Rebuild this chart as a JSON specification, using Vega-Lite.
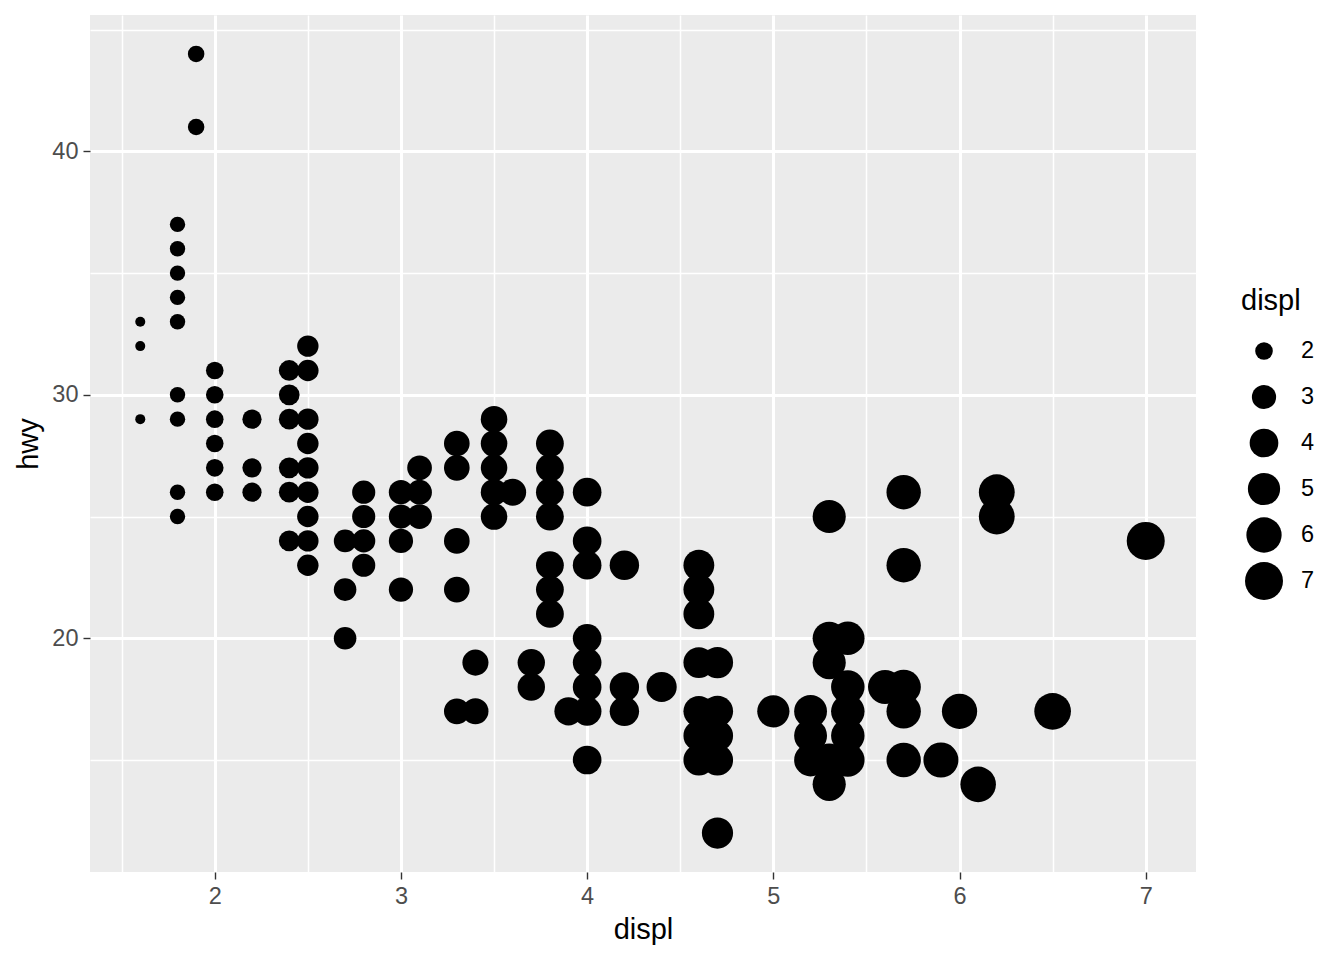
{
  "$schema": "https://vega.github.io/schema/vega-lite/v6.json",
  "width": 1106,
  "height": 857,
  "autosize": "none",
  "padding": {"left": 90, "top": 15, "right": 148, "bottom": 88},
  "background": "white",
  "data": {
    "values": [
      {"displ": 1.6, "hwy": 33}, {"displ": 1.6, "hwy": 32}, {"displ": 1.6, "hwy": 29},
      {"displ": 1.8, "hwy": 37}, {"displ": 1.8, "hwy": 36}, {"displ": 1.8, "hwy": 35}, {"displ": 1.8, "hwy": 34}, {"displ": 1.8, "hwy": 33}, {"displ": 1.8, "hwy": 30}, {"displ": 1.8, "hwy": 29}, {"displ": 1.8, "hwy": 26}, {"displ": 1.8, "hwy": 25},
      {"displ": 1.9, "hwy": 44}, {"displ": 1.9, "hwy": 41},
      {"displ": 2.0, "hwy": 31}, {"displ": 2.0, "hwy": 30}, {"displ": 2.0, "hwy": 29}, {"displ": 2.0, "hwy": 28}, {"displ": 2.0, "hwy": 27}, {"displ": 2.0, "hwy": 26},
      {"displ": 2.2, "hwy": 29}, {"displ": 2.2, "hwy": 27}, {"displ": 2.2, "hwy": 26},
      {"displ": 2.4, "hwy": 31}, {"displ": 2.4, "hwy": 30}, {"displ": 2.4, "hwy": 29}, {"displ": 2.4, "hwy": 27}, {"displ": 2.4, "hwy": 26}, {"displ": 2.4, "hwy": 24},
      {"displ": 2.5, "hwy": 32}, {"displ": 2.5, "hwy": 31}, {"displ": 2.5, "hwy": 29}, {"displ": 2.5, "hwy": 28}, {"displ": 2.5, "hwy": 27}, {"displ": 2.5, "hwy": 26}, {"displ": 2.5, "hwy": 25}, {"displ": 2.5, "hwy": 24}, {"displ": 2.5, "hwy": 23},
      {"displ": 2.7, "hwy": 24}, {"displ": 2.7, "hwy": 22}, {"displ": 2.7, "hwy": 20},
      {"displ": 2.8, "hwy": 26}, {"displ": 2.8, "hwy": 25}, {"displ": 2.8, "hwy": 24}, {"displ": 2.8, "hwy": 23},
      {"displ": 3.0, "hwy": 26}, {"displ": 3.0, "hwy": 25}, {"displ": 3.0, "hwy": 24}, {"displ": 3.0, "hwy": 22},
      {"displ": 3.1, "hwy": 27}, {"displ": 3.1, "hwy": 26}, {"displ": 3.1, "hwy": 25},
      {"displ": 3.3, "hwy": 28}, {"displ": 3.3, "hwy": 27}, {"displ": 3.3, "hwy": 24}, {"displ": 3.3, "hwy": 22}, {"displ": 3.3, "hwy": 17},
      {"displ": 3.4, "hwy": 19}, {"displ": 3.4, "hwy": 17},
      {"displ": 3.5, "hwy": 29}, {"displ": 3.5, "hwy": 28}, {"displ": 3.5, "hwy": 27}, {"displ": 3.5, "hwy": 26}, {"displ": 3.5, "hwy": 25},
      {"displ": 3.6, "hwy": 26},
      {"displ": 3.7, "hwy": 19}, {"displ": 3.7, "hwy": 18},
      {"displ": 3.8, "hwy": 28}, {"displ": 3.8, "hwy": 27}, {"displ": 3.8, "hwy": 26}, {"displ": 3.8, "hwy": 25}, {"displ": 3.8, "hwy": 23}, {"displ": 3.8, "hwy": 22}, {"displ": 3.8, "hwy": 21},
      {"displ": 3.9, "hwy": 17},
      {"displ": 4.0, "hwy": 26}, {"displ": 4.0, "hwy": 24}, {"displ": 4.0, "hwy": 23}, {"displ": 4.0, "hwy": 20}, {"displ": 4.0, "hwy": 19}, {"displ": 4.0, "hwy": 18}, {"displ": 4.0, "hwy": 17}, {"displ": 4.0, "hwy": 15},
      {"displ": 4.2, "hwy": 23}, {"displ": 4.2, "hwy": 18}, {"displ": 4.2, "hwy": 17},
      {"displ": 4.4, "hwy": 18},
      {"displ": 4.6, "hwy": 23}, {"displ": 4.6, "hwy": 22}, {"displ": 4.6, "hwy": 21}, {"displ": 4.6, "hwy": 19}, {"displ": 4.6, "hwy": 17}, {"displ": 4.6, "hwy": 16}, {"displ": 4.6, "hwy": 15},
      {"displ": 4.7, "hwy": 19}, {"displ": 4.7, "hwy": 17}, {"displ": 4.7, "hwy": 16}, {"displ": 4.7, "hwy": 15}, {"displ": 4.7, "hwy": 12},
      {"displ": 5.0, "hwy": 17},
      {"displ": 5.2, "hwy": 17}, {"displ": 5.2, "hwy": 16}, {"displ": 5.2, "hwy": 15},
      {"displ": 5.3, "hwy": 25}, {"displ": 5.3, "hwy": 20}, {"displ": 5.3, "hwy": 19}, {"displ": 5.3, "hwy": 15}, {"displ": 5.3, "hwy": 14},
      {"displ": 5.4, "hwy": 20}, {"displ": 5.4, "hwy": 18}, {"displ": 5.4, "hwy": 17}, {"displ": 5.4, "hwy": 16}, {"displ": 5.4, "hwy": 15},
      {"displ": 5.6, "hwy": 18},
      {"displ": 5.7, "hwy": 26}, {"displ": 5.7, "hwy": 23}, {"displ": 5.7, "hwy": 18}, {"displ": 5.7, "hwy": 17}, {"displ": 5.7, "hwy": 15},
      {"displ": 5.9, "hwy": 15},
      {"displ": 6.0, "hwy": 17},
      {"displ": 6.1, "hwy": 14},
      {"displ": 6.2, "hwy": 26}, {"displ": 6.2, "hwy": 25},
      {"displ": 6.5, "hwy": 17},
      {"displ": 7.0, "hwy": 24}
    ]
  },
  "mark": {"type": "point", "filled": true, "opacity": 1, "color": "black", "shape": "circle", "strokeWidth": 0},
  "encoding": {
    "x": {
      "field": "displ", "type": "quantitative",
      "scale": {"domain": [1.33, 7.27], "nice": false, "zero": false},
      "axis": {
        "title": "displ",
        "values": [1.5, 2, 2.5, 3, 3.5, 4, 4.5, 5, 5.5, 6, 6.5, 7],
        "labelExpr": "datum.value % 1 === 0 ? format(datum.value, 'd') : ''",
        "tickOpacity": {"condition": {"test": "datum.value % 1 !== 0", "value": 0}, "value": 1},
        "gridWidth": {"condition": {"test": "datum.value % 1 !== 0", "value": 1.5}, "value": 3},
        "titlePadding": 8
      }
    },
    "y": {
      "field": "hwy", "type": "quantitative",
      "scale": {"domain": [10.4, 45.6], "nice": false, "zero": false},
      "axis": {
        "title": "hwy",
        "values": [15, 20, 25, 30, 35, 40, 45],
        "labelExpr": "datum.value % 10 === 0 ? format(datum.value, 'd') : ''",
        "tickOpacity": {"condition": {"test": "datum.value % 10 !== 0", "value": 0}, "value": 1},
        "gridWidth": {"condition": {"test": "datum.value % 10 !== 0", "value": 1.5}, "value": 3},
        "titlePadding": 8
      }
    },
    "size": {
      "field": "displ", "type": "quantitative",
      "scale": {"domain": [1.6, 1.8, 2, 2.5, 3, 4, 5, 6, 7], "range": [100, 237, 310, 459, 588, 822, 1038, 1244, 1444]},
      "legend": {
        "title": "displ",
        "values": [2, 3, 4, 5, 6, 7],
        "orient": "none",
        "legendX": 1151,
        "legendY": 272,
        "padding": 0,
        "rowPadding": 0,
        "clipHeight": 46,
        "symbolOffset": 4,
        "labelOffset": 18,
        "titlePadding": 12,
        "symbolType": "circle",
        "symbolFillColor": "black",
        "symbolStrokeWidth": 0,
        "symbolOpacity": 1,
        "titleFont": "Liberation Sans",
        "titleFontSize": 29,
        "titleFontWeight": "normal",
        "titleColor": "black",
        "labelFont": "Liberation Sans",
        "labelFontSize": 23.5,
        "labelColor": "black"
      }
    }
  },
  "config": {
    "view": {"fill": "#EBEBEB", "stroke": null},
    "axis": {
      "domain": false,
      "gridColor": "white",
      "tickColor": "#333333",
      "tickSize": 7,
      "tickWidth": 1.4,
      "labelFont": "Liberation Sans",
      "labelFontSize": 23.5,
      "labelColor": "#4D4D4D",
      "labelPadding": 5,
      "titleFont": "Liberation Sans",
      "titleFontSize": 29,
      "titleFontWeight": "normal",
      "titleColor": "black"
    }
  }
}
